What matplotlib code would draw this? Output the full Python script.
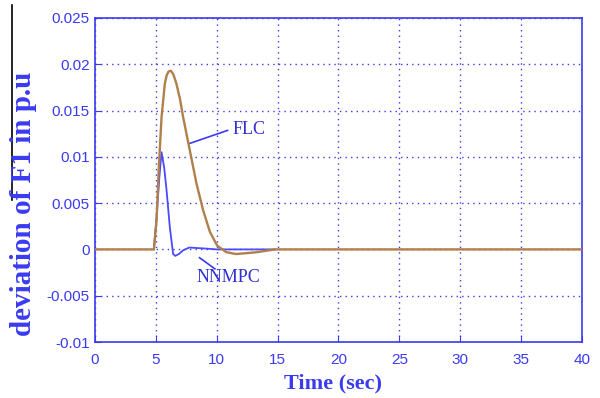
import matplotlib
matplotlib.use('Agg')
import matplotlib.pyplot as plt
from matplotlib.lines import Line2D

# FLC response (brown)
t_flc = [0, 4.85, 5.07, 5.26, 5.48, 5.75, 5.9, 6.05, 6.24, 6.45, 6.7, 7.0, 7.25,
         7.8, 8.35, 8.9, 9.45, 10.05, 10.8, 11.6, 12.5, 13.3, 14.8, 40]
v_flc = [0, 0, 0.0031, 0.0089, 0.0143, 0.0179, 0.0188, 0.0192, 0.0193, 0.0189,
         0.0179, 0.0162, 0.0143, 0.0107, 0.0071, 0.0042, 0.0019, 0.0004, -0.0003,
         -0.0005, -0.0004, -0.0003, 0, 0]

# NNMPC response (blue)
t_nn = [4.85, 5.1, 5.3, 5.48, 5.7, 5.89, 6.16, 6.43, 6.6, 6.9, 7.25, 7.75, 9.0,
        10.0, 14.8]
v_nn = [0, 0.004, 0.0078, 0.0105, 0.0088, 0.0064, 0.0024, -0.0005, -0.0007,
        -0.0005, -0.0001, 0.0002, 0.0001, 0, 0]

xticks = [0, 5, 10, 15, 20, 25, 30, 35, 40]
yticks = [-0.01, -0.005, 0, 0.005, 0.01, 0.015, 0.02, 0.025]
ytick_labels = ['-0.01', '-0.005', '0', '0.005', '0.01', '0.015', '0.02', '0.025']

blue = '#3a3af0'
brown = '#b0804a'

fig = plt.figure(figsize=(6, 3.98), dpi=100)
ax = fig.add_axes([0.158, 0.1407, 0.812, 0.8143])

ax.plot(t_nn, v_nn, color='#4a4aff', lw=1.3, zorder=3)
ax.plot(t_flc, v_flc, color=brown, lw=1.7, zorder=4)

ax.set_xlim(0, 40)
ax.set_ylim(-0.01, 0.025)
ax.set_xticks(xticks)
ax.set_yticks(yticks)
ax.set_yticklabels(ytick_labels)

ax.grid(True, color=blue, linestyle=(0, (1, 3)), linewidth=1.0)
for s in ax.spines.values():
    s.set_color(blue)
    s.set_linewidth(1.2)
ax.tick_params(direction='in', colors=blue, labelcolor=blue, labelsize=11,
               length=4, top=False, right=False)
ax.tick_params(axis='x', pad=8)
for lab in ax.get_xticklabels() + ax.get_yticklabels():
    lab.set_family('Liberation Sans')

fig.text(333 / 600, 1 - 383 / 398, 'Time (sec)', family='Liberation Serif',
         fontweight='bold', fontsize=16, color=blue, ha='center', va='center')
fig.text(24 / 600, 1 - 204 / 398, 'deviation of F1 in p.u', family='Liberation Serif',
         fontweight='bold', fontsize=21, color=blue, ha='center', va='center',
         rotation=90)

# annotations
ax.plot([7.8, 10.9], [0.01145, 0.01285], color=blue, lw=1.2)
ax.text(11.3, 0.0129, 'FLC', family='Liberation Serif', fontsize=13,
        color='#3030d0', va='center', ha='left')
ax.plot([8.6, 9.86], [-0.0009, -0.0021], color=blue, lw=1.2)
ax.text(11.0, -0.003, 'NNMPC', family='Liberation Serif', fontsize=13,
        color='#3030d0', va='center', ha='center')

# stray black line at the left edge
fig.add_artist(Line2D([12 / 600, 12 / 600], [1 - 5 / 398, 1 - 200 / 398],
                      color='black', lw=1.2))

fig.savefig('out.png', dpi=100)
